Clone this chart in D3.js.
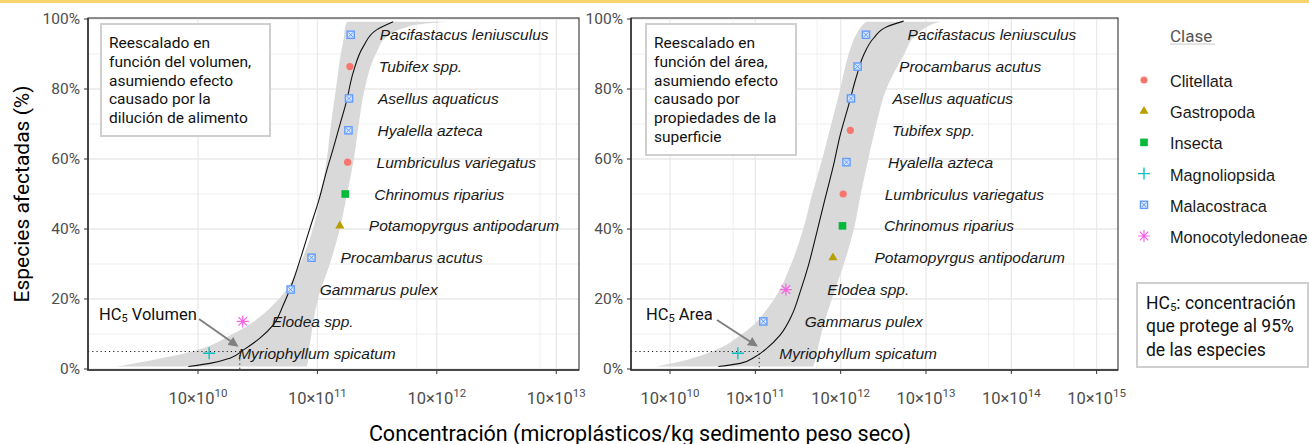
<!DOCTYPE html>
<html>
<head>
<meta charset="utf-8">
<script src="https://cdn.jsdelivr.net/npm/d3@7"></script>
<style>
  body { margin: 0; background: #fff; }
  svg { display: block; }
  .din { font-family: Roboto, "Noto Sans", sans-serif; }
  .arial { font-family: "Liberation Sans", Arial, sans-serif; }
</style>
</head>
<body>
<div id="chart"></div>
<script>
// ---------- data ----------
const rankPct = [4.5, 13.6, 22.7, 31.8, 40.9, 50, 59.1, 68.2, 77.3, 86.4, 95.5];

const volSpecies = ["Myriophyllum spicatum", "Elodea spp.", "Gammarus pulex", "Procambarus acutus",
  "Potamopyrgus antipodarum", "Chrinomus riparius", "Lumbriculus variegatus", "Hyalella azteca",
  "Asellus aquaticus", "Tubifex spp.", "Pacifastacus leniusculus"];
const volClass = ["Magnoliopsida", "Monocotyledoneae", "Malacostraca", "Malacostraca", "Gastropoda",
  "Insecta", "Clitellata", "Malacostraca", "Malacostraca", "Clitellata", "Malacostraca"];
const volConc = [1.24e11, 2.37e11, 5.97e11, 8.93e11, 1.54e12, 1.71e12, 1.79e12, 1.82e12, 1.84e12, 1.87e12, 1.90e12];

const areaSpecies = ["Myriophyllum spicatum", "Gammarus pulex", "Elodea spp.", "Potamopyrgus antipodarum",
  "Chrinomus riparius", "Lumbriculus variegatus", "Hyalella azteca", "Tubifex spp.",
  "Asellus aquaticus", "Procambarus acutus", "Pacifastacus leniusculus"];
const areaClass = ["Magnoliopsida", "Malacostraca", "Monocotyledoneae", "Gastropoda", "Insecta",
  "Clitellata", "Malacostraca", "Clitellata", "Malacostraca", "Malacostraca", "Malacostraca"];
const areaConc = [6.24e11, 1.24e12, 2.28e12, 8.12e12, 1.05e13, 1.07e13, 1.17e13, 1.30e13, 1.32e13, 1.58e13, 1.98e13];

// fitted curve
const volCurvePct = [0.7, 1.6, 3.1, 5.4, 8.8, 12.6, 18.3, 24, 32.6, 40.2, 47.8, 56.4, 63.1, 69.7, 76.4, 84.9, 92.1, 96.9, 99.2];
const volCurveConc = [8.30e10, 1.26e11, 1.85e11, 2.39e11, 3.30e11, 4.27e11, 5.18e11, 6.08e11, 7.38e11, 8.65e11,
  1.02e12, 1.19e12, 1.36e12, 1.54e12, 1.75e12, 2.0e12, 2.42e12, 3.13e12, 4.31e12];
const areaCurvePct = [0.7, 1.6, 3.5, 5.9, 9.7, 15.4, 22.1, 29.7, 39.2, 48.8, 58.3, 66.9, 75.4, 84, 89.7, 94.5, 97.8, 99.4];
const areaCurveConc = [3.69e11, 6.64e11, 9.95e11, 1.36e12, 1.95e12, 2.68e12, 3.36e12, 4.20e12, 5.27e12, 6.59e12,
  8.26e12, 9.89e12, 1.24e13, 1.55e13, 1.86e13, 2.43e13, 3.49e13, 5.47e13];

// confidence band
const bandPct = [0.7, 2, 5, 10, 20, 30, 40, 50, 60, 70, 80, 90, 95, 97.5, 98.5, 99.2];
const volBandLo = [2.10e10, 3.40e10, 8.91e10, 1.96e11, 4.76e11, 7.14e11, 9.16e11, 1.07e12, 1.20e12, 1.30e12,
  1.43e12, 1.57e12, 1.67e12, 1.70e12, 1.73e12, 1.77e12];
const volBandHi = [8.09e11, 8.34e11, 8.49e11, 8.91e11, 1.01e12, 1.27e12, 1.54e12, 1.77e12, 2.02e12, 2.22e12,
  2.49e12, 3.09e12, 3.82e12, 5.40e12, 7.2e12, 1.29e13];
const areaBandLo = [6.85e10, 1.24e11, 3.11e11, 7.0e11, 1.66e12, 2.63e12, 3.64e12, 4.64e12, 6.08e12, 7.76e12,
  9.9e12, 1.24e13, 1.48e13, 1.70e13, 1.84e13, 2.0e13];
const areaBandHi = [4.76e12, 4.97e12, 5.31e12, 5.92e12, 7.87e12, 1.09e13, 1.43e13, 1.72e13, 2.11e13, 2.62e13,
  3.43e13, 5.57e13, 7.31e13, 9.84e13, 1.19e14, 1.48e14];

const hc5Vol = 2.24e11;
const hc5Area = 1.11e12;

// axes
const yTicks = [0, 20, 40, 60, 80, 100];
const yMinor = [10, 30, 50, 70, 90];
const volXTicks = [1e11, 1e12, 1e13, 1e14];
const volXMinor = [6.9e11, 6.8e12, 7.3e13];
const areaXTicks = [1e11, 1e12, 1e13, 1e14, 1e15, 1e16];
const areaXMinor = [5.5e11, 5.3e12, 5.4e13, 5.4e14, 5.4e15];

const classes = ["Clitellata", "Gastropoda", "Insecta", "Magnoliopsida", "Malacostraca", "Monocotyledoneae"];
const classColors = ["#F8766D", "#B79F00", "#00BA38", "#00BFC4", "#619CFF", "#F564E3"];

const volNote = ["Reescalado en", "función del volumen,", "asumiendo efecto", "causado por la", "dilución de alimento"];
const areaNote = ["Reescalado en", "función del área,", "asumiendo efecto", "causado por", "propiedades de la", "superficie"];

// ---------- drawing ----------
const W = 1309, H = 444;
const svg = d3.select("#chart").append("svg").attr("width", W).attr("height", H);
const color = d3.scaleOrdinal().domain(classes).range(classColors);

svg.append("rect").attr("width", W).attr("height", 3).attr("fill", "#f8d56b");

function drawSymbol(g, cls) {
  const c = color(cls);
  if (cls === "Clitellata") {
    g.append("circle").attr("r", 3.6).attr("fill", c);
  } else if (cls === "Gastropoda") {
    g.append("path").attr("d", d3.symbol(d3.symbolTriangle, 36)()).attr("fill", c);
  } else if (cls === "Insecta") {
    g.append("rect").attr("x", -3.8).attr("y", -3.8).attr("width", 7.6).attr("height", 7.6).attr("fill", c);
  } else if (cls === "Magnoliopsida") {
    g.append("path").attr("d", "M-6,0H6M0,-6V6").attr("stroke", c).attr("stroke-width", 1.3);
  } else if (cls === "Malacostraca") {
    g.append("rect").attr("x", -3.6).attr("y", -3.6).attr("width", 7.2).attr("height", 7.2)
      .attr("fill", "#dbe7ff").attr("stroke", c).attr("stroke-width", 1.4);
    g.append("path").attr("d", "M-2.4,-2.4L2.4,2.4M-2.4,2.4L2.4,-2.4").attr("stroke", c).attr("stroke-width", 1);
  } else {
    g.append("path").attr("d", "M-6,0H6M0,-6V6M-4.3,-4.3L4.3,4.3M-4.3,4.3L4.3,-4.3")
      .attr("stroke", c).attr("stroke-width", 1.2);
  }
}

function drawPanel(p) {
  const x = d3.scaleLog().domain(p.xDomain).range([p.left, p.right]);
  const y = d3.scaleLinear().domain([0, 100]).range([p.bottom - 1, p.top + 1]);
  const g = svg.append("g");

  // grid
  g.selectAll(".gym").data(yMinor).join("line")
    .attr("x1", p.left).attr("x2", p.right).attr("y1", d => y(d)).attr("y2", d => y(d))
    .attr("stroke", "#efefef").attr("stroke-width", 1);
  g.selectAll(".gy").data(yTicks).join("line")
    .attr("x1", p.left).attr("x2", p.right).attr("y1", d => y(d)).attr("y2", d => y(d))
    .attr("stroke", "#e9e9e9").attr("stroke-width", 1.3);
  g.selectAll(".gxm").data(p.xMinor).join("line")
    .attr("x1", d => x(d)).attr("x2", d => x(d)).attr("y1", p.top).attr("y2", p.bottom)
    .attr("stroke", "#efefef").attr("stroke-width", 1);
  g.selectAll(".gx").data(p.xTicks).join("line")
    .attr("x1", d => x(d)).attr("x2", d => x(d)).attr("y1", p.top).attr("y2", p.bottom)
    .attr("stroke", "#e9e9e9").attr("stroke-width", 1.3);

  // band
  const band = bandPct.map((v, i) => ({ p: v, lo: p.bandLo[i], hi: p.bandHi[i] }));
  g.append("path").datum(band)
    .attr("fill", "#d9d9d9")
    .attr("d", d3.area().curve(d3.curveMonotoneY)
      .y(d => y(d.p)).x0(d => x(d.lo)).x1(d => x(d.hi)));

  // fitted curve
  const curve = p.curvePct.map((v, i) => ({ p: v, c: p.curveConc[i] }));
  g.append("path").datum(curve)
    .attr("fill", "none").attr("stroke", "#111").attr("stroke-width", 1.1)
    .attr("d", d3.line().curve(d3.curveMonotoneY).x(d => x(d.c)).y(d => y(d.p)));

  // HC5 guides
  g.append("path")
    .attr("d", `M${p.left},${y(5)}H${x(p.hc5)}V${p.bottom}`)
    .attr("fill", "none").attr("stroke", "#222").attr("stroke-width", 1)
    .attr("stroke-dasharray", "1.2,3");

  // text note box
  const nb = g.append("g");
  nb.append("rect").attr("x", p.note.x).attr("y", p.note.y).attr("width", p.note.w).attr("height", p.note.h)
    .attr("fill", "#fff").attr("stroke", "#cfcfcf").attr("stroke-width", 2);
  nb.selectAll("text").data(p.noteLines).join("text")
    .attr("class", "din")
    .attr("x", p.note.x + 8).attr("y", (d, i) => p.note.y + 19 + i * 18.8)
    .attr("dominant-baseline", "central")
    .attr("font-size", 15.5).attr("fill", "#111").text(d => d);

  // points + species labels
  const pts = p.species.map((s, i) => ({ s, cls: p.cls[i], c: p.conc[i], pct: rankPct[i] }));
  pts.forEach(d => {
    const sg = g.append("g").attr("transform", `translate(${x(d.c)},${y(d.pct)})`);
    drawSymbol(sg, d.cls);
  });
  g.selectAll(".lab").data(pts).join("text")
    .attr("class", "arial")
    .attr("x", d => x(d.c) + p.labelGap).attr("y", d => y(d.pct))
    .attr("dominant-baseline", "central")
    .attr("font-style", "italic").attr("font-size", 15.5).attr("fill", "#1a1a1a")
    .text(d => d.s);

  // HC5 annotation
  const ht = g.append("text").attr("class", "din")
    .attr("x", p.hcText.x).attr("y", p.hcText.y).attr("dominant-baseline", "central")
    .attr("font-size", 16.5).attr("fill", "#111");
  ht.append("tspan").text("HC");
  ht.append("tspan").attr("font-size", 11).attr("dy", 4).text("5");
  ht.append("tspan").attr("dy", -4).text(" " + p.hcName);
  g.append("line")
    .attr("x1", p.arrow.x1).attr("y1", p.arrow.y1)
    .attr("x2", x(p.hc5) - 3).attr("y2", y(5) - 6)
    .attr("stroke", "#808080").attr("stroke-width", 2)
    .attr("marker-end", "url(#arr)");

  // frame and axes
  g.append("rect").attr("x", p.left).attr("y", p.top).attr("width", p.right - p.left).attr("height", p.bottom - p.top)
    .attr("fill", "none").attr("stroke", "#333").attr("stroke-width", 1.1);
  g.append("path").attr("d", `M${p.left},${p.top}V${p.bottom}H${p.right}`)
    .attr("fill", "none").attr("stroke", "#333").attr("stroke-width", 1.6);

  g.selectAll(".yt").data(yTicks).join("line")
    .attr("x1", p.left - 4).attr("x2", p.left).attr("y1", d => y(d)).attr("y2", d => y(d))
    .attr("stroke", "#333").attr("stroke-width", 1);
  g.selectAll(".yl").data(yTicks).join("text")
    .attr("class", "din")
    .attr("x", p.left - 8).attr("y", d => y(d)).attr("text-anchor", "end")
    .attr("dominant-baseline", "central").attr("font-size", 15.5).attr("fill", "#4d4d4d")
    .text(d => d + "%");

  g.selectAll(".xt").data(p.xTicks).join("line")
    .attr("x1", d => x(d)).attr("x2", d => x(d)).attr("y1", p.bottom).attr("y2", p.bottom + 4)
    .attr("stroke", "#333").attr("stroke-width", 1);
  const xl = g.selectAll(".xl").data(p.xTicks).join("text")
    .attr("class", "din")
    .attr("x", d => x(d)).attr("y", 404).attr("text-anchor", "middle")
    .attr("font-size", 16.5).attr("fill", "#4d4d4d");
  xl.append("tspan").text("10×10");
  xl.append("tspan").attr("font-size", 11.5).attr("dy", -7).text(d => Math.round(Math.log10(d)) - 1);
}

// arrow marker
svg.append("defs").append("marker")
  .attr("id", "arr").attr("viewBox", "0 0 10 10").attr("refX", 8).attr("refY", 5)
  .attr("markerWidth", 5).attr("markerHeight", 5).attr("orient", "auto")
  .append("path").attr("d", "M0,0L10,5L0,10Z").attr("fill", "#808080");

drawPanel({
  left: 88, right: 579, top: 18, bottom: 370,
  xDomain: [1.2e10, 1.55e14], xTicks: volXTicks, xMinor: volXMinor,
  bandLo: volBandLo, bandHi: volBandHi, curvePct: volCurvePct, curveConc: volCurveConc,
  species: volSpecies, cls: volClass, conc: volConc, labelGap: 29,
  hc5: hc5Vol, hcName: "Volumen", hcText: { x: 99, y: 314 }, arrow: { x1: 199, y1: 319 },
  note: { x: 101, y: 24, w: 169, h: 112 }, noteLines: volNote
});

drawPanel({
  left: 631, right: 1118, top: 18, bottom: 370,
  xDomain: [3.49e10, 1.78e16], xTicks: areaXTicks, xMinor: areaXMinor,
  bandLo: areaBandLo, bandHi: areaBandHi, curvePct: areaCurvePct, curveConc: areaCurveConc,
  species: areaSpecies, cls: areaClass, conc: areaConc, labelGap: 41.5,
  hc5: hc5Area, hcName: "Area", hcText: { x: 646, y: 314 }, arrow: { x1: 717, y1: 320 },
  note: { x: 646, y: 24, w: 150, h: 131 }, noteLines: areaNote
});

// axis titles
svg.append("text").attr("class", "din")
  .attr("transform", "translate(22,194) rotate(-90)")
  .attr("text-anchor", "middle").attr("dominant-baseline", "central")
  .attr("font-size", 21).attr("fill", "#000")
  .text("Especies afectadas (%)");
svg.append("text").attr("class", "din")
  .attr("x", 640).attr("y", 433).attr("text-anchor", "middle").attr("dominant-baseline", "central")
  .attr("font-size", 21.5).attr("fill", "#000")
  .text("Concentración (microplásticos/kg sedimento peso seco)");

// legend
const leg = svg.append("g");
leg.append("text").attr("class", "din")
  .attr("x", 1170).attr("y", 36).attr("dominant-baseline", "central")
  .attr("font-size", 17).attr("fill", "#555").text("Clase");
leg.append("line").attr("x1", 1170).attr("x2", 1215).attr("y1", 44).attr("y2", 44)
  .attr("stroke", "#c8c8c8").attr("stroke-width", 1);
classes.forEach((c, i) => {
  const ry = 81 + i * 31.2;
  const sg = leg.append("g").attr("transform", `translate(1144,${ry - 1})`);
  drawSymbol(sg, c);
  leg.append("text").attr("class", "arial")
    .attr("x", 1170).attr("y", ry).attr("dominant-baseline", "central")
    .attr("font-size", 16.3).attr("fill", "#1a1a1a").text(c);
});

// HC5 definition box
const hb = svg.append("g");
hb.append("rect").attr("x", 1137).attr("y", 283).attr("width", 171).attr("height", 84)
  .attr("fill", "#fff").attr("stroke", "#cfcfcf").attr("stroke-width", 2);
const hl = hb.append("text").attr("class", "din").attr("x", 1146).attr("y", 303)
  .attr("dominant-baseline", "central").attr("font-size", 17.5).attr("fill", "#111");
hl.append("tspan").text("HC");
hl.append("tspan").attr("font-size", 11.5).attr("dy", 4).text("5");
hl.append("tspan").attr("dy", -4).text(": concentración");
["que protege al 95%", "de las especies"].forEach((t, i) => {
  hb.append("text").attr("class", "din").attr("x", 1146).attr("y", 326 + i * 23.5)
    .attr("dominant-baseline", "central").attr("font-size", 17.5)
    .attr("fill", "#111").text(t);
});
</script>
</body>
</html>
